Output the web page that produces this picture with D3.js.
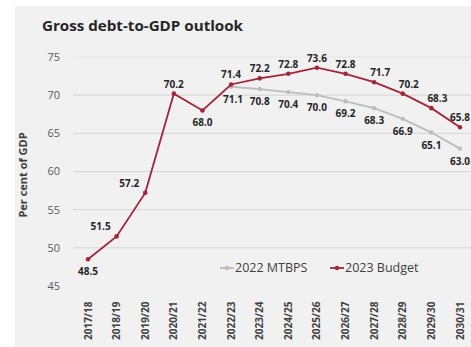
<!DOCTYPE html>
<html>
<head>
<meta charset="utf-8">
<script src="https://cdn.jsdelivr.net/npm/d3@7"></script>
<style>
  body { margin: 0; background: #fff; }
  svg { display: block; font-family: "Open Sans", sans-serif; }
  .lbl { font-size: 10px; font-weight: bold; fill: #262626; text-anchor: middle; }
</style>
</head>
<body>
<script>
// ---- data ----
var years = ["2017/18","2018/19","2019/20","2020/21","2021/22","2022/23","2023/24",
             "2024/25","2025/26","2026/27","2027/28","2028/29","2029/30","2030/31"];
var budget2023 = [48.5, 51.5, 57.2, 70.2, 68.0, 71.4, 72.2, 72.8, 73.6, 72.8, 71.7, 70.2, 68.3, 65.8];
var mtbpsYears = years.slice(5);
var mtbps2022 = [71.1, 70.8, 70.4, 70.0, 69.2, 68.3, 66.9, 65.1, 63.0];
var yTicks = [45, 50, 55, 60, 65, 70, 75];
// where each budget label sits relative to its point
var budgetLabelPos = ["below","left","left","above","below","above","above","above","above","above","aboveR","aboveR","aboveR","above"];

var width = 471, height = 347;
var svg = d3.select("body").append("svg")
    .attr("width", width).attr("height", height);

// chart panel
svg.append("rect").attr("x", 15).attr("y", 6)
    .attr("width", width - 15).attr("height", height - 6)
    .attr("fill", "#f1f1f1");

svg.append("text").attr("x", 42).attr("y", 31)
    .attr("font-size", 14.5).attr("font-weight", "bold").attr("fill", "#262626")
    .attr("textLength", 201).attr("lengthAdjust", "spacingAndGlyphs")
    .text("Gross debt-to-GDP outlook");

var x = d3.scalePoint().domain(years).range([88, 460]);
var y = d3.scaleLinear().domain([45, 75]).range([286, 57]);

// gridlines
svg.append("g").selectAll("line").data(yTicks.filter(d => d > 45)).enter().append("line")
    .attr("x1", 73).attr("x2", width)
    .attr("y1", d => y(d)).attr("y2", d => y(d))
    .attr("stroke", d => d == 75 ? "#e6e6e6" : "#d4d4d4");

// y axis labels
svg.append("g").selectAll("text").data(yTicks).enter().append("text")
    .attr("x", 60).attr("y", d => y(d)).attr("dy", "0.35em")
    .attr("text-anchor", "end").attr("font-size", 11).attr("fill", "#595959")
    .text(d => d);

svg.append("text")
    .attr("transform", "translate(27," + 175 + ") rotate(-90)")
    .attr("text-anchor", "middle").attr("font-size", 11).attr("font-weight", "bold")
    .attr("fill", "#404040")
    .text("Per cent of GDP");

// x labels
svg.append("g").selectAll("text").data(years).enter().append("text")
    .attr("transform", d => "translate(" + (x(d) + 3.5) + ",340) rotate(-90)")
    .attr("font-size", 10).attr("font-weight", "bold").attr("fill", "#404040")
    .text(d => d);

var line = d3.line().x(d => x(d[0])).y(d => y(d[1]));
var red = "#a22638", gray = "#bdbdbd";

var mData = d3.zip(mtbpsYears, mtbps2022);
var bData = d3.zip(years, budget2023);

// MTBPS series
svg.append("path").datum(mData).attr("d", line)
    .attr("fill", "none").attr("stroke", gray).attr("stroke-width", 1.8);
svg.append("g").selectAll("circle").data(mData).enter().append("circle")
    .attr("cx", d => x(d[0])).attr("cy", d => y(d[1])).attr("r", 2.2).attr("fill", gray);

// Budget series
svg.append("path").datum(bData).attr("d", line)
    .attr("fill", "none").attr("stroke", red).attr("stroke-width", 1.8);
svg.append("g").selectAll("circle").data(bData).enter().append("circle")
    .attr("cx", d => x(d[0])).attr("cy", d => y(d[1])).attr("r", 2.3).attr("fill", red);

// labels
svg.append("g").selectAll("text").data(mData).enter().append("text")
    .attr("class", "lbl")
    .attr("x", (d, i) => x(d[0]) + (i == 0 ? 2 : 0))
    .attr("y", d => y(d[1]) + 16)
    .text(d => d[1].toFixed(1));

svg.append("g").selectAll("text").data(bData).enter().append("text")
    .attr("class", "lbl")
    .attr("x", (d, i) => {
      var p = budgetLabelPos[i];
      return x(d[0]) + (p == "left" ? -16 : p == "aboveR" ? 6 : 0);
    })
    .attr("y", (d, i) => {
      var p = budgetLabelPos[i];
      return y(d[1]) + (p == "below" ? 16 : -6);
    })
    .text(d => d[1].toFixed(1));

// legend
var legend = [["2022 MTBPS", gray, 220], ["2023 Budget", red, 330]];
var lg = svg.append("g").selectAll("g").data(legend).enter().append("g")
    .attr("transform", d => "translate(" + d[2] + ",268)");
lg.append("line").attr("x1", 0).attr("x2", 14).attr("stroke", d => d[1]).attr("stroke-width", 1.8);
lg.append("circle").attr("cx", 7).attr("r", 2.2).attr("fill", d => d[1]);
lg.append("text").attr("x", 15).attr("dy", "0.35em").attr("font-size", 12.5).attr("fill", "#404040")
    .text(d => d[0]);
</script>
</body>
</html>
